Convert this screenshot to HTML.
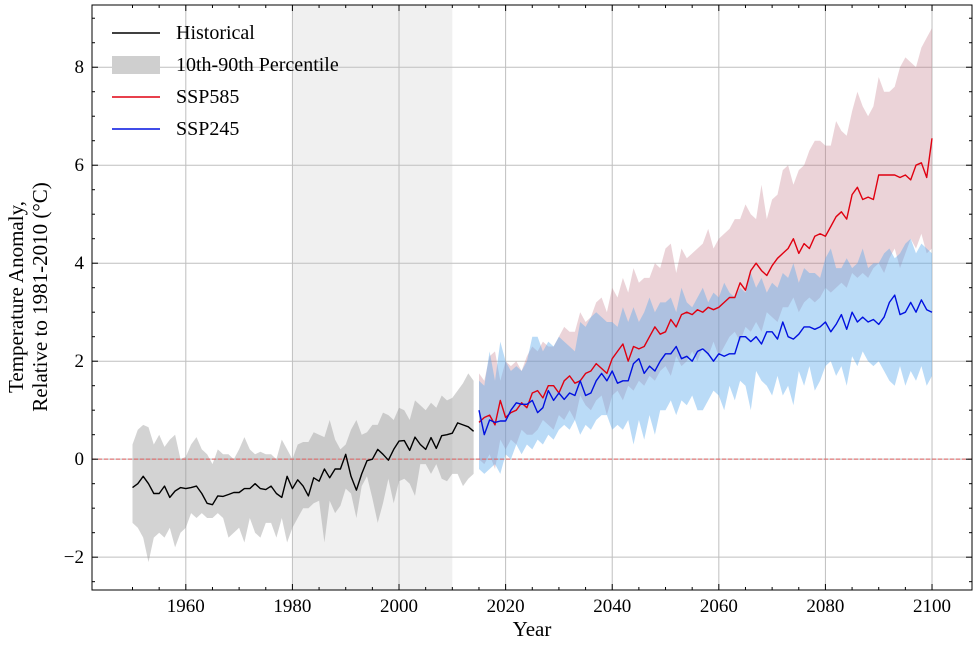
<!DOCTYPE html>
<html><head><meta charset="utf-8">
<style>
html,body{margin:0;padding:0;background:#fff;}
svg{display:block;font-family:"Liberation Serif",serif;}
</style></head>
<body>
<svg id="chart" width="980" height="648" viewBox="0 0 980 648">
  <g id="g-back"></g><g id="g-grid"></g><g id="g-bands"></g><g id="g-lines"></g><g id="g-axes"></g><g id="g-legend"></g>
</svg>
<script>
const histYears0 = 1950;
const histMean = [-0.58,-0.5,-0.35,-0.5,-0.7,-0.7,-0.55,-0.78,-0.65,-0.58,-0.6,-0.58,-0.55,-0.7,-0.9,-0.93,-0.75,-0.76,-0.72,-0.68,-0.68,-0.6,-0.6,-0.5,-0.6,-0.62,-0.55,-0.7,-0.78,-0.35,-0.6,-0.42,-0.55,-0.75,-0.38,-0.45,-0.2,-0.38,-0.2,-0.2,0.1,-0.35,-0.63,-0.3,-0.03,0.0,0.2,0.1,-0.02,0.2,0.37,0.38,0.18,0.45,0.3,0.2,0.44,0.22,0.48,0.5,0.53,0.74,0.7,0.66,0.57];
const histUpper = [0.3,0.6,0.7,0.65,0.3,0.5,0.25,0.4,0.5,0.0,0.05,0.3,0.45,0.2,0.1,-0.1,0.2,0.1,0.1,0.0,0.2,0.45,0.2,0.1,0.15,0.1,0.1,0.0,0.4,0.2,0.0,0.3,0.35,0.35,0.55,0.5,0.45,0.8,0.4,0.2,0.3,0.6,0.8,0.5,0.55,0.7,0.7,0.95,0.9,0.8,1.05,1.0,0.8,1.2,1.1,1.0,1.15,1.05,1.3,1.2,1.25,1.4,1.55,1.75,1.6];
const histLower = [-1.3,-1.4,-1.6,-2.1,-1.6,-1.5,-1.6,-1.4,-1.8,-1.5,-1.4,-1.1,-1.2,-1.1,-1.2,-1.2,-1.1,-1.2,-1.6,-1.5,-1.4,-1.7,-1.2,-1.5,-1.6,-1.3,-1.3,-1.6,-1.2,-1.7,-1.4,-1.2,-1.0,-1.0,-0.9,-0.85,-1.7,-0.85,-1.1,-0.95,-0.6,-0.7,-1.2,-0.55,-0.35,-0.8,-1.3,-0.9,-0.4,-0.9,-0.45,-0.4,-0.5,-0.75,-0.1,-0.1,-0.3,-0.1,-0.4,-0.45,-0.3,-0.3,-0.55,-0.4,-0.3];
const sspYears0 = 2015;
const ssp585Mean = [0.75,0.85,0.9,0.7,1.2,0.85,0.95,1.0,1.15,1.05, 1.35,1.4,1.25,1.5,1.5,1.35,1.6,1.7,1.55,1.6, 1.75,1.8,1.95,1.85,1.75,2.05,2.2,2.35,2.0,2.3, 2.25,2.3,2.5,2.7,2.55,2.6,2.85,2.7,2.95,3.0, 2.95,3.05,3.0,3.1,3.05,3.1,3.2,3.3,3.3,3.6, 3.45,3.85,4.0,3.85,3.75,3.95,4.1,4.2,4.3,4.5, 4.2,4.4,4.3,4.55,4.6,4.55,4.75,4.95,5.05,4.9, 5.4,5.55,5.3,5.35,5.3,5.8,5.8,5.8,5.8,5.75, 5.8,5.7,6.0,6.05,5.75,6.55];
const ssp585Upper = [1.75,1.6,2.1,2.2,1.6,2.0,1.9,2.0,1.8,2.1, 2.3,2.2,2.4,2.3,2.3,2.5,2.7,2.6,2.6,3.0, 2.8,2.9,3.2,3.3,3.0,3.5,3.3,3.7,3.4,3.9, 3.6,3.7,3.7,4.0,3.9,4.3,4.4,3.8,4.3,4.1, 4.2,4.3,4.4,4.7,4.3,4.5,4.6,4.7,4.9,4.9, 5.2,5.0,4.9,5.6,4.9,5.3,5.4,5.9,6.0,5.6, 5.9,6.0,6.3,6.5,6.5,6.4,6.4,6.9,6.7,6.6, 7.1,7.5,7.2,7.0,7.2,7.8,7.5,7.5,7.6,8.0, 8.2,8.1,8.0,8.4,8.6,8.8];
const ssp585Lower = [0.0,-0.1,0.1,-0.2,0.4,0.2,0.4,0.3,0.6,0.5, 0.5,0.6,0.8,0.7,0.6,0.9,0.8,1.0,0.8,1.3, 1.1,1.0,1.2,1.3,0.9,1.3,1.4,1.2,1.5,1.4, 1.6,1.5,1.7,1.6,1.8,1.9,1.7,2.1,1.9,2.0, 2.2,2.0,2.3,2.1,2.4,2.1,2.3,2.5,2.6,2.4, 2.7,2.6,2.8,2.6,3.0,2.9,2.8,3.1,3.1,3.3, 3.0,3.2,3.3,3.2,3.3,3.5,3.4,3.5,3.6,3.5, 3.8,3.7,3.8,3.7,3.9,4.0,3.8,4.1,4.3,3.9, 4.2,4.5,4.3,4.6,4.2,4.3];
const ssp245Mean = [1.0,0.5,0.8,0.75,0.78,0.78,1.0,1.15,1.12,1.12, 1.2,0.95,1.05,1.4,1.2,1.35,1.22,1.35,1.3,1.6, 1.3,1.35,1.6,1.75,1.6,1.8,1.55,1.6,1.6,1.95, 2.05,1.75,1.9,1.8,2.0,2.15,2.15,2.3,2.05,2.1, 2.0,2.2,2.25,2.15,2.0,2.15,2.1,2.15,2.15,2.5, 2.5,2.4,2.5,2.35,2.6,2.6,2.45,2.8,2.5,2.45, 2.55,2.7,2.7,2.65,2.7,2.8,2.6,2.75,2.95,2.65, 3.0,2.8,2.9,2.8,2.85,2.75,2.9,3.2,3.35,2.95, 3.0,3.2,3.0,3.25,3.05,3.0];
const ssp245Upper = [1.6,1.5,2.2,1.6,2.4,2.0,1.8,1.9,1.8,2.0, 2.5,2.5,2.2,2.4,2.3,2.5,2.4,2.3,2.2,2.8, 2.7,2.9,3.0,2.9,2.8,2.8,2.7,3.1,2.8,3.1, 2.8,3.0,3.3,3.0,3.2,3.2,3.3,3.0,3.5,3.2, 3.1,3.3,3.5,3.2,3.4,3.3,3.6,3.4,3.3,3.5, 3.4,3.8,3.5,3.7,3.4,3.6,3.5,3.8,3.7,4.0, 3.6,3.9,3.8,3.8,3.7,4.1,4.3,3.9,3.9,4.1, 3.9,4.0,4.3,3.9,4.0,4.0,4.2,4.3,4.1,4.2, 4.4,4.5,4.2,4.4,4.3,4.2];
const ssp245Lower = [-0.2,-0.3,-0.2,-0.1,-0.3,0.1,0.0,0.3,0.1,0.3, 0.2,0.4,0.3,0.5,0.4,0.6,0.7,0.6,0.8,0.5, 0.7,0.6,0.8,0.9,0.9,0.6,0.7,0.6,0.8,0.3, 0.8,0.4,0.9,0.5,1.0,1.0,1.2,0.9,1.2,1.1, 1.3,1.0,1.0,1.2,1.4,1.3,1.0,1.5,1.2,1.6, 1.5,1.0,1.8,1.6,1.5,1.3,1.7,1.3,1.5,1.1, 1.8,1.5,1.9,1.4,1.6,1.9,2.0,1.7,1.9,1.5, 2.1,1.9,2.2,2.0,1.9,2.0,1.8,1.6,1.5,1.9, 1.5,1.8,1.6,1.9,1.5,1.7];
const xTicks = [1960,1980,2000,2020,2040,2060,2080,2100];
const yTicks = [-2,0,2,4,6,8];
const yTickLabels = ["\u22122","0","2","4","6","8"];
const refPeriod = [1980,2010];

const L=92,R=972,T=5,B=590;
const xMin=1942.4,xMax=2107.5,yMin=-2.67,yMax=9.27;
const X=v=>L+(v-xMin)/(xMax-xMin)*(R-L);
const Y=v=>B-(v-yMin)/(yMax-yMin)*(B-T);
const NS='http://www.w3.org/2000/svg';
function mk(tag,attrs,parent){const e=document.createElementNS(NS,tag);for(const k in attrs)e.setAttribute(k,attrs[k]);parent.appendChild(e);return e;}
const gBack=document.getElementById('g-back'),gGrid=document.getElementById('g-grid'),gBands=document.getElementById('g-bands'),gLines=document.getElementById('g-lines'),gAxes=document.getElementById('g-axes'),gLeg=document.getElementById('g-legend');

let r=mk('rect',{x:X(refPeriod[0]),y:T,width:X(refPeriod[1])-X(refPeriod[0]),height:B-T,fill:'#f0f0f0'},gBack);



xTicks.forEach(t=>{const l=mk('line',{x1:X(t),x2:X(t),y1:T,y2:B,stroke:'#bfbfbf','stroke-width':1},gGrid);

});
yTicks.forEach(t=>{const l=mk('line',{x1:L,x2:R,y1:Y(t),y2:Y(t),stroke:'#bfbfbf','stroke-width':1},gGrid);

});

function band(y0,up,lo,fill,name){let d='';up.forEach((v,i)=>{d+=(i?'L':'M')+X(y0+i).toFixed(1)+','+Y(v).toFixed(1);});
for(let i=lo.length-1;i>=0;i--)d+='L'+X(y0+i).toFixed(1)+','+Y(lo[i]).toFixed(1);d+='Z';
const p=mk('path',{d:d,fill:fill,stroke:'none'},gBands);

}
function line(y0,vals,col,name){const pts=vals.map((v,i)=>X(y0+i).toFixed(1)+','+Y(v).toFixed(1)).join(' ');
const p=mk('polyline',{points:pts,fill:'none',stroke:col,'stroke-width':1.4,'stroke-linejoin':'round'},gLines);

}
band(histYears0,histUpper,histLower,'rgba(150,150,150,0.42)','historical-percentile-band');
band(sspYears0,ssp585Upper,ssp585Lower,'rgba(190,110,125,0.3)','ssp585-percentile-band');
band(sspYears0,ssp245Upper,ssp245Lower,'rgba(90,170,235,0.42)','ssp245-percentile-band');
const z=mk('line',{x1:L,x2:R,y1:Y(0),y2:Y(0),stroke:'#e06060','stroke-width':1,'stroke-dasharray':'4,2'},gLines);


line(histYears0,histMean,'#000','historical-line');
line(sspYears0,ssp585Mean,'#e00010','ssp585-line');
line(sspYears0,ssp245Mean,'#0010e0','ssp245-line');

const fr=mk('rect',{x:L,y:T,width:R-L,height:B-T,fill:'none',stroke:'#000','stroke-width':1},gAxes);


for(let t=1950;t<=2100;t+=5){const major=xTicks.includes(t);const len=major?6:3;
mk('line',{x1:X(t),x2:X(t),y1:B,y2:B-len,stroke:'#000'},gAxes);mk('line',{x1:X(t),x2:X(t),y1:T,y2:T+len,stroke:'#000'},gAxes);}
for(let t=-2.5;t<=9;t+=0.5){const major=yTicks.includes(t);const len=major?6:3;
mk('line',{x1:L,x2:L+len,y1:Y(t),y2:Y(t),stroke:'#000'},gAxes);mk('line',{x1:R,x2:R-len,y1:Y(t),y2:Y(t),stroke:'#000'},gAxes);}
xTicks.forEach(t=>{const e=mk('text',{x:X(t),y:B+22,'text-anchor':'middle','font-size':19},gAxes);e.textContent=t;

});
yTicks.forEach((t,i)=>{const e=mk('text',{x:L-8,y:Y(t)+6,'text-anchor':'end','font-size':19},gAxes);e.textContent=yTickLabels[i];

});
</script>
<script>
(function(){
const svg=document.getElementById('chart');const NS='http://www.w3.org/2000/svg';
function t(x,y,s,attrs,name){const e=document.createElementNS(NS,'text');e.setAttribute('x',x);e.setAttribute('y',y);for(const k in attrs)e.setAttribute(k,attrs[k]);e.textContent=s;svg.appendChild(e);

return e;}
t(532,636,'Year',{'text-anchor':'middle','font-size':21},'x-axis-title');
const yl=t(0,0,'',{'text-anchor':'middle','font-size':21,transform:'translate(25,297) rotate(-90)'},'y-axis-title');
const s1=document.createElementNS(NS,'tspan');s1.setAttribute('x',0);s1.setAttribute('dy',-2);s1.textContent='Temperature Anomaly,';yl.appendChild(s1);
const s2=document.createElementNS(NS,'tspan');s2.setAttribute('x',0);s2.setAttribute('dy',24);s2.textContent='Relative to 1981-2010 (\u00B0C)';yl.appendChild(s2);
const g=document.getElementById('g-legend');
const items=[['Historical','line','#000'],['10th-90th Percentile','patch','#cfcfcf'],['SSP585','line','#e00010'],['SSP245','line','#0010e0']];
items.forEach((it,i)=>{const y=33+i*32;
let m;if(it[1]==='line'){m=document.createElementNS(NS,'line');m.setAttribute('x1',112);m.setAttribute('x2',160);m.setAttribute('y1',y);m.setAttribute('y2',y);m.setAttribute('stroke',it[2]);m.setAttribute('stroke-width',1.4);}
else{m=document.createElementNS(NS,'rect');m.setAttribute('x',112);m.setAttribute('y',y-9);m.setAttribute('width',48);m.setAttribute('height',18);m.setAttribute('fill',it[2]);}
g.appendChild(m);


const e=document.createElementNS(NS,'text');e.setAttribute('x',176);e.setAttribute('y',y+6);e.setAttribute('font-size',20);e.textContent=it[0];g.appendChild(e);

});
})();
</script>
</body></html>
